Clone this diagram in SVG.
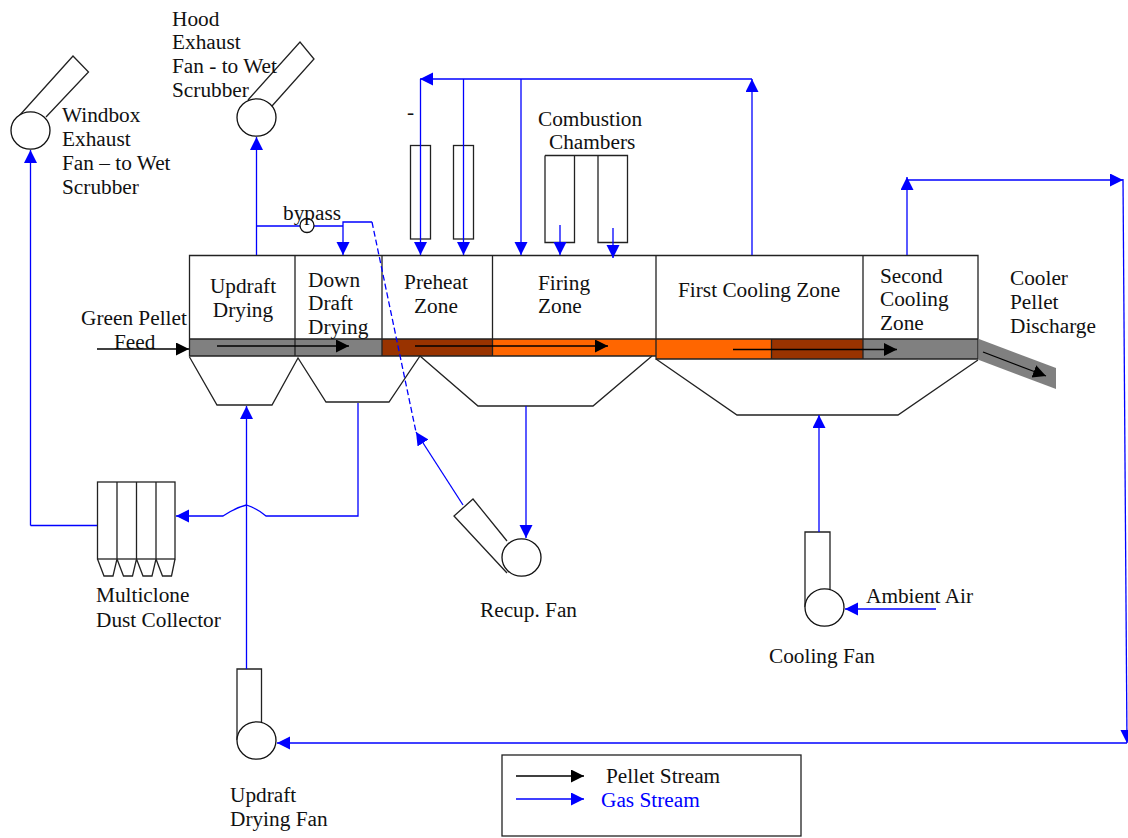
<svg xmlns="http://www.w3.org/2000/svg" width="1128" height="838" viewBox="0 0 1128 838">
<style>
text{font-family:"Liberation Serif","Times New Roman",serif;font-size:21.3px;fill:#111}
.s{fill:none;stroke:#222;stroke-width:1.3}
.w{fill:#fff;stroke:#111;stroke-width:1.3}
.b{fill:none;stroke:#0000ff;stroke-width:1.3}
.ba{fill:none;stroke:#0000ff;stroke-width:1.3;marker-end:url(#blue)}
.k{fill:none;stroke:#000;stroke-width:1.3;marker-end:url(#black)}
</style>
<defs>
<marker id="blue" markerUnits="userSpaceOnUse" markerWidth="14" markerHeight="14" refX="13" refY="6.5" orient="auto"><path d="M0 0L13 6.5L0 13Z" fill="#0000ff"/></marker>
<marker id="black" markerUnits="userSpaceOnUse" markerWidth="14" markerHeight="14" refX="13" refY="6.5" orient="auto"><path d="M0 0L13 6.5L0 13Z" fill="#000"/></marker>
</defs>
<rect width="1128" height="838" fill="#fff"/>
<g id="windbox-fan"><path class="s" d="M19 116L73 56L88.500 72L46 117"/><ellipse class="w" cx="30.500" cy="130.500" rx="19.500" ry="18.700"/>
<text x="62" y="122">Windbox</text><text x="62" y="146">Exhaust</text><text x="62" y="170">Fan – to Wet</text><text x="62" y="194">Scrubber</text></g>
<g id="hood-fan"><path class="s" d="M248 100L300 42L314 59L272 106"/><ellipse class="w" cx="256.500" cy="117.500" rx="19.500" ry="18.700"/>
<text x="172" y="26">Hood</text><text x="172" y="49">Exhaust</text><text x="172" y="73">Fan - to Wet</text><text x="172" y="97">Scrubber</text></g>
<g id="grate">
<rect x="189" y="339" width="193" height="17" fill="#808080"/>
<rect x="382" y="339" width="110.500" height="17" fill="#993300"/>
<rect x="492.500" y="339" width="163.500" height="17" fill="#ff6600"/>
<rect x="656" y="339" width="115.500" height="20" fill="#ff6600"/>
<rect x="771.500" y="339" width="91.500" height="20" fill="#993300"/>
<rect x="863" y="339" width="115" height="20" fill="#808080"/>
<path fill="#808080" d="M979 339L1056 368V389L979 360Z"/>
<path class="s" d="M189.500 255.500H978V359H656V356H189.500ZM189.500 339H978M295 255.500V356M382 255.500V356M492.500 255.500V356M656 255.500V359M771.500 339V359M863 255.500V359"/>
<path class="s" d="M189.500 357L217 405H272L298 358L326 402H389L420 356L478 406H593L652 356"/>
<path class="s" d="M656 359L737 415H898L978 360"/>
</g>
<g id="zone-labels">
<text x="243" y="293" text-anchor="middle">Updraft</text><text x="243" y="317" text-anchor="middle">Drying</text>
<text x="308" y="287">Down</text><text x="308" y="310">Draft</text><text x="308" y="334">Drying</text>
<text x="436" y="289" text-anchor="middle">Preheat</text><text x="436" y="313" text-anchor="middle">Zone</text>
<text x="538" y="290">Firing</text><text x="538" y="313">Zone</text>
<text x="678" y="297">First Cooling Zone</text>
<text x="880" y="283">Second</text><text x="880" y="306">Cooling</text><text x="880" y="330">Zone</text>
<text x="1010" y="285">Cooler</text><text x="1010" y="309">Pellet</text><text x="1010" y="333">Discharge</text>
<text x="81" y="325">Green Pellet</text><text x="114" y="349">Feed</text>
</g>
<g id="burners"><rect class="s" x="410.500" y="145.500" width="20" height="93.500"/><rect class="s" x="453.500" y="145.500" width="20" height="93.500"/><text x="407" y="119">-</text></g>
<g id="combustion-chambers"><path class="s" d="M545 155.500H627.500V242.500H598V155.500M574.500 155.500V242.500H545V155.500"/><text x="538" y="126">Combustion</text><text x="549" y="149">Chambers</text></g>
<g id="multiclone"><rect class="s" x="97.500" y="482" width="77.500" height="77"/><path class="s" d="M117 482V559M136.500 482V559M156 482V559M97.500 559L104 576H113L117 559L123.500 576H132.500L136.500 559L143 576H152L156 559L162.500 576H171.500L175 559"/>
<text x="96" y="602">Multiclone</text><text x="96" y="627">Dust Collector</text></g>
<g id="recup-fan"><path class="s" d="M507 541L473 499L454 516L507 573"/><ellipse class="w" cx="521.500" cy="557.500" rx="19.500" ry="18.700"/><text x="480" y="617">Recup. Fan</text></g>
<g id="cooling-fan"><path class="s" d="M805 607V532H830V590"/><ellipse class="w" cx="824.500" cy="607.500" rx="19.500" ry="18.700"/><text x="866" y="603">Ambient Air</text><text x="769" y="663">Cooling Fan</text></g>
<g id="updraft-fan"><path class="s" d="M237 740V669H261.500V726"/><ellipse class="w" cx="256.500" cy="740.500" rx="19.500" ry="18.700"/><text x="230" y="802">Updraft</text><text x="230" y="826">Drying Fan</text></g>
<g id="connectors">
<path class="b" d="M97 525.500H30.500"/><path class="ba" d="M30.500 525.500V150"/>
<path class="ba" d="M358 403V516H266Q258 509 246.500 505Q235 508 223 516H176"/>
<path class="ba" d="M246.500 669V406"/>
<path class="ba" d="M256.500 255V137"/>
<path class="b" d="M256.500 226H300M314 226H343"/>
<path class="ba" d="M343 226V255"/>
<path class="b" d="M343 226V222H372"/>
<path class="b" stroke-dasharray="6 3" d="M372 222L416 432"/>
<path class="ba" d="M463 505L416 432"/>
<path class="ba" d="M752 255V79"/>
<path class="ba" d="M752 79H420"/>
<path class="ba" d="M420.500 79V255"/>
<path class="ba" d="M463.500 79V255"/>
<path class="ba" d="M521 79V255"/>
<path class="ba" d="M560 225V255"/>
<path class="ba" d="M613 228V258"/>
<path class="ba" d="M907 255V177"/>
<path class="ba" d="M907 180H1123"/>
<path class="ba" d="M1123 179L1127 743"/>
<path class="ba" d="M1127 743H277"/>
<path class="ba" d="M526 406V538"/>
<path class="ba" d="M819 532V415"/>
<path class="ba" d="M936 609H845"/>
<path class="k" d="M97 349H189"/>
<path class="k" d="M217 346H349"/>
<path class="k" d="M415 346H608"/>
<path class="k" d="M733 349.500H897"/>
<path class="k" d="M983 352L1046 376"/>
</g>
<g id="bypass"><circle class="w" cx="307" cy="225.500" r="7"/><text x="283" y="220">bypass</text></g>
<g id="legend"><rect class="s" x="502" y="755" width="299" height="81"/>
<path class="k" d="M516 776H584"/><path class="ba" d="M516 799H584"/>
<text x="606" y="783">Pellet Stream</text><text x="601" y="807" style="fill:#0000ff">Gas Stream</text></g>
</svg>
